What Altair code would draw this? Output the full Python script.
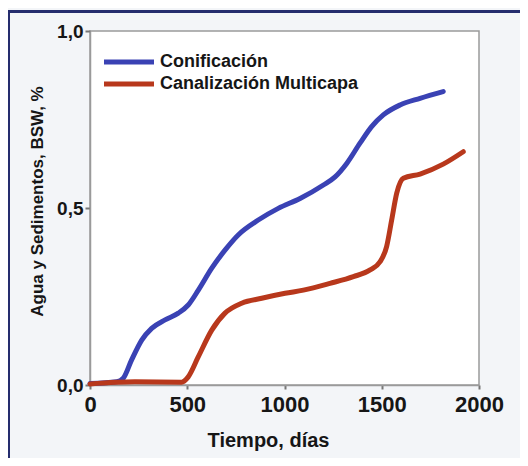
import altair as alt
import pandas as pd

series_names = ["Conificación", "Canalización Multicapa"]
series_colors = ["#3a42b4", "#b8381c"]

# Conificación (blue)
blue_t = [0, 137, 171, 214, 266, 317, 386, 454, 505, 557, 626, 694, 762, 865, 968,
          1080, 1200, 1260, 1320, 1388, 1448, 1508, 1594, 1697, 1816]
blue_w = [0.004, 0.009, 0.019, 0.071, 0.127, 0.160, 0.184, 0.203, 0.226, 0.268, 0.330,
          0.381, 0.424, 0.466, 0.499, 0.527, 0.565, 0.588, 0.626, 0.683, 0.730, 0.763,
          0.791, 0.810, 0.829]

# Canalización Multicapa (red)
red_t = [0, 231, 471, 505, 557, 626, 694, 780, 883, 1003, 1097, 1234, 1354, 1440,
         1491, 1525, 1551, 1577, 1611, 1697, 1816, 1919]
red_w = [0.003, 0.009, 0.008, 0.023, 0.080, 0.155, 0.203, 0.231, 0.245, 0.259, 0.268,
         0.287, 0.306, 0.325, 0.348, 0.391, 0.466, 0.542, 0.584, 0.596, 0.624, 0.659]

x_ticks = [0, 500, 1000, 1500, 2000]
y_ticks = [0.0, 0.5, 1.0]

df = pd.concat([
    pd.DataFrame({"t": blue_t, "w": blue_w, "serie": series_names[0]}),
    pd.DataFrame({"t": red_t, "w": red_w, "serie": series_names[1]}),
], ignore_index=True)

FONT = "Liberation Sans"
TXT = "#161616"
GRAY = "#9a9a9a"

lines = alt.Chart(df).mark_line(
    strokeWidth=5, interpolate="monotone", strokeCap="round", strokeJoin="round"
).encode(
    x=alt.X("t:Q",
            scale=alt.Scale(domain=[0, 2000], nice=False, zero=False),
            axis=alt.Axis(values=x_ticks, format="d", labelFlush=False,
                          labelFontSize=22, labelFont=FONT, labelFontWeight="bold",
                          labelColor=TXT, labelPadding=5, tickSize=4,
                          tickColor="#777777", tickWidth=2,
                          domainColor=GRAY, domainWidth=1.5, grid=False,
                          title="Tiempo, días", titleFont=FONT, titleFontSize=20,
                          titleFontWeight="bold", titleColor=TXT,
                          titleX=178, titleY=61, titleAlign="center",
                          titleBaseline="alphabetic")),
    y=alt.Y("w:Q",
            scale=alt.Scale(domain=[0, 1], nice=False),
            axis=alt.Axis(values=y_ticks,
                          labelExpr="replace(format(datum.value, '.1f'), '.', ',')",
                          labelFontSize=19, labelFont=FONT, labelFontWeight="bold",
                          labelColor=TXT, labelPadding=2, tickSize=5,
                          tickColor="#777777", tickWidth=2,
                          domainColor=GRAY, domainWidth=1.5, grid=False,
                          title="Agua y Sedimentos, BSW, %", titleFont=FONT,
                          titleFontSize=17, titleFontWeight="bold", titleColor=TXT,
                          titleAngle=270, titleX=-48, titleY=170,
                          titleAlign="center", titleBaseline="alphabetic")),
    color=alt.Color("serie:N",
                    scale=alt.Scale(domain=series_names, range=series_colors),
                    legend=alt.Legend(title=None, orient="none", legendX=10, legendY=22,
                                      symbolType="M-1,0L9,0", symbolSize=100,
                                      symbolStrokeWidth=5, labelFont=FONT,
                                      labelFontSize=18, labelFontWeight="bold",
                                      labelColor=TXT, labelOffset=42, labelLimit=0,
                                      rowPadding=2, padding=0)),
)

frame = alt.Chart(alt.Data(values=[{}]))
top_border = frame.mark_rule(color="#252d6e", strokeWidth=3).encode(
    x=alt.value(-82), x2=alt.value(430), y=alt.value(-19.5))
left_border = frame.mark_rule(color="#252d6e", strokeWidth=3).encode(
    x=alt.value(-81.5), y=alt.value(-21), y2=alt.value(427))

chart = alt.layer(lines, top_border, left_border).properties(
    width=389, height=354,
    autosize=alt.AutoSizeParams(type="none"),
    padding={"left": 82, "top": 23, "right": 41, "bottom": 73},
    background="#f3f5f8",
).configure_view(fill="white", stroke=GRAY, strokeWidth=1.5)

chart.save("out.html", embed_options={"renderer": "svg", "actions": False})
